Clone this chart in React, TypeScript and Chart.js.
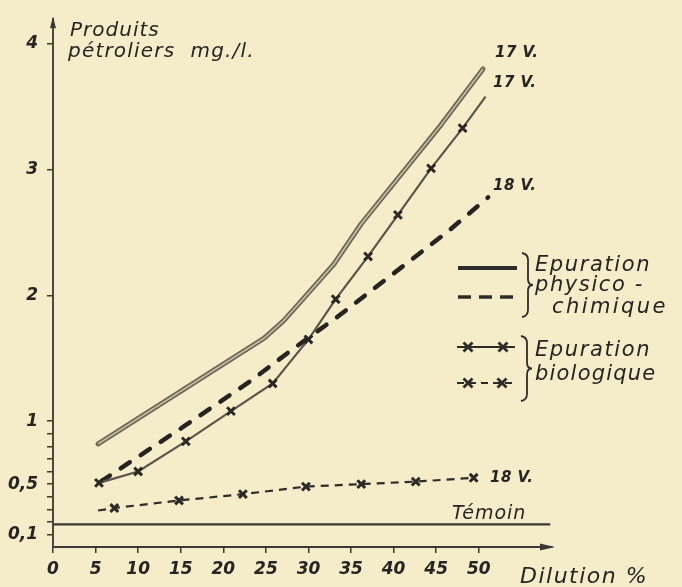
import React, { useEffect, useRef } from 'react';
import { Chart, registerables } from 'chart.js';

Chart.register(...registerables);

// ---------- data ----------
const X_TICKS = [0, 5, 10, 15, 20, 25, 30, 35, 40, 45, 50];
const Y_TICKS = [0.1, 0.2, 0.3, 0.4, 0.5, 0.6, 0.7, 0.8, 0.9, 1, 2, 3, 4];
const Y_LABELLED = [0.1, 0.5, 1, 2, 3, 4];

// Epuration physico-chimique, 17 V (solid)
const physico17X = [5.3, 24.8, 27.1, 30, 33, 36.2, 45.5, 50.5];
const physico17Y = [0.82, 1.66, 1.8, 2.02, 2.25, 2.57, 3.35, 3.8];

// Epuration physico-chimique, 18 V (dashed)
const physico18X = [5.6, 15.4, 23.2, 27.9, 33.6, 46.4, 51.1];
const physico18Y = [0.52, 0.96, 1.32, 1.56, 1.84, 2.51, 2.78];

// Epuration biologique, 17 V (solid with crosses)
const bio17X = [5.4, 10, 15.6, 20.9, 25.8, 30, 33.2, 37, 40.5, 44.4, 48.1, 50.8];
const bio17Y = [0.51, 0.6, 0.84, 1.08, 1.3, 1.65, 1.97, 2.31, 2.64, 3.01, 3.33, 3.58];

// Epuration biologique, 18 V (dashed with crosses)
const bio18X = [5.3, 7.2, 14.8, 22.3, 29.7, 36.2, 42.6, 49.4];
const bio18Y = [0.29, 0.31, 0.37, 0.42, 0.48, 0.5, 0.52, 0.55];

// Témoin
const temoinX = [0, 58.4];
const temoinY = [0.18, 0.18];

const toPts = (xs: number[], ys: number[]) => xs.map((x, i) => ({ x, y: ys[i] }));

const BG = '#f5ecca';
const INK = '#262522';
const FONT = "'DejaVu Sans', sans-serif";

export default function App() {
  const ref = useRef<HTMLCanvasElement>(null);

  useEffect(() => {
    const canvas = ref.current!;

    const drawCross = (ctx: CanvasRenderingContext2D, x: number, y: number, r: number) => {
      ctx.beginPath();
      ctx.moveTo(x - r, y - r);
      ctx.lineTo(x + r, y + r);
      ctx.moveTo(x - r, y + r);
      ctx.lineTo(x + r, y - r);
      ctx.stroke();
    };

    const brace = (ctx: CanvasRenderingContext2D, x: number, top: number, bottom: number) => {
      const mid = (top + bottom) / 2;
      ctx.beginPath();
      ctx.moveTo(x, top);
      ctx.quadraticCurveTo(x + 6, top + 1, x + 6, top + 7);
      ctx.lineTo(x + 6, mid - 6);
      ctx.quadraticCurveTo(x + 6, mid, x + 11, mid);
      ctx.quadraticCurveTo(x + 6, mid, x + 6, mid + 6);
      ctx.lineTo(x + 6, bottom - 7);
      ctx.quadraticCurveTo(x + 6, bottom - 1, x, bottom);
      ctx.stroke();
    };

    const annot = {
      id: 'annot',
      beforeDraw(chart: any) {
        const { ctx, width, height } = chart;
        ctx.save();
        ctx.fillStyle = BG;
        ctx.fillRect(0, 0, width, height);
        ctx.restore();
      },
      afterDraw(chart: any) {
        const { ctx } = chart;
        const xs = chart.scales.x;
        const ys = chart.scales.y;
        ctx.save();
        ctx.fillStyle = INK;
        ctx.strokeStyle = INK;
        ctx.textAlign = 'left';
        ctx.textBaseline = 'alphabetic';

        // axis arrows
        const ax = xs.left;
        const ay = ys.bottom;
        ctx.fillStyle = '#3b3934';
        ctx.beginPath();
        ctx.moveTo(ax, ys.top - 3);
        ctx.lineTo(ax - 3, ys.top + 9);
        ctx.lineTo(ax + 3, ys.top + 9);
        ctx.closePath();
        ctx.fill();
        ctx.beginPath();
        ctx.moveTo(xs.right + 3, ay);
        ctx.lineTo(xs.right - 12, ay - 3.5);
        ctx.lineTo(xs.right - 12, ay + 3.5);
        ctx.closePath();
        ctx.fill();
        ctx.fillStyle = INK;

        const text = (s: string, x: number, y: number, font: string, ls = '0px') => {
          ctx.font = font;
          (ctx as any).letterSpacing = ls;
          ctx.fillText(s, x, y);
        };

        // axis titles
        text('Produits', 70, 36, `italic 20px ${FONT}`, '1px');
        text('pétroliers  mg./l.', 68, 57, `italic 20px ${FONT}`, '1.2px');
        text('Dilution %', 520, 583, `italic 22px ${FONT}`, '1.5px');

        // series labels
        const lbl = `italic bold 15px ${FONT}`;
        text('17 V.', 495, 57, lbl, '0.5px');
        text('17 V.', 493, 87, lbl, '0.5px');
        text('18 V.', 493, 190, lbl, '0.5px');
        text('18 V.', 490, 482, lbl, '0.5px');
        text('Témoin', 452, 519, `italic 19px ${FONT}`, '1px');

        // legend samples
        ctx.lineCap = 'butt';
        ctx.strokeStyle = '#2e2c28';
        ctx.lineWidth = 4;
        ctx.beginPath();
        ctx.moveTo(458, 268);
        ctx.lineTo(517, 268);
        ctx.stroke();

        ctx.setLineDash([13, 8]);
        ctx.lineWidth = 3.5;
        ctx.beginPath();
        ctx.moveTo(458, 297);
        ctx.lineTo(517, 297);
        ctx.stroke();
        ctx.setLineDash([]);

        ctx.lineWidth = 1.8;
        ctx.beginPath();
        ctx.moveTo(457, 347);
        ctx.lineTo(515, 347);
        ctx.stroke();
        ctx.lineWidth = 2.8;
        drawCross(ctx, 468, 347, 4.5);
        drawCross(ctx, 503, 347, 4.5);

        ctx.lineWidth = 2;
        ctx.setLineDash([7, 5]);
        ctx.beginPath();
        ctx.moveTo(457, 383);
        ctx.lineTo(515, 383);
        ctx.stroke();
        ctx.setLineDash([]);
        ctx.lineWidth = 2.8;
        drawCross(ctx, 468, 383, 4.5);
        drawCross(ctx, 502, 383, 4.5);

        // braces
        ctx.lineWidth = 1.8;
        brace(ctx, 522, 253, 317);
        brace(ctx, 521, 336, 401);

        // legend text
        const lf = `italic 21px ${FONT}`;
        text('Epuration', 535, 271, lf, '1.6px');
        text('physico -', 535, 291, lf, '1.6px');
        text('chimique', 552, 313, lf, '2.4px');
        text('Epuration', 535, 356, lf, '1.6px');
        text('biologique', 535, 380, lf, '1.2px');

        ctx.restore();
      },
    };

    const tickFont = { family: FONT, size: 17, style: 'italic' as const, weight: 'bold' as const };

    const chart = new Chart(canvas, {
      type: 'line',
      data: {
        datasets: [
          {
            label: 'Témoin',
            data: toPts(temoinX, temoinY),
            borderColor: '#3a3833',
            borderWidth: 2.2,
            pointRadius: 0,
            order: 5,
          },
          {
            label: 'physico 17 V',
            data: toPts(physico17X, physico17Y),
            borderColor: '#6e685a',
            borderWidth: 5,
            pointRadius: 0,
            borderCapStyle: 'round',
            borderJoinStyle: 'round',
            order: 4,
          },
          {
            label: 'physico 17 V (inner)',
            data: toPts(physico17X, physico17Y),
            borderColor: '#cbc3a5',
            borderWidth: 1.5,
            pointRadius: 0,
            order: 3,
          },
          {
            label: 'physico 18 V',
            data: toPts(physico18X, physico18Y),
            borderColor: '#252420',
            borderWidth: 4.5,
            borderDash: [11, 13],
            borderCapStyle: 'round',
            pointRadius: 0,
            order: 2,
          },
          {
            label: 'bio 17 V',
            data: toPts(bio17X, bio17Y),
            borderColor: '#5b564b',
            borderWidth: 2.2,
            pointStyle: 'crossRot',
            pointRadius: bio17X.map((_, i) => (i === bio17X.length - 1 ? 0 : 5.5)),
            pointBorderColor: '#2a2925',
            pointBorderWidth: 3,
            order: 1,
          },
          {
            label: 'bio 18 V',
            data: toPts(bio18X, bio18Y),
            borderColor: '#2e2d29',
            borderWidth: 2.2,
            borderDash: [8, 6],
            pointStyle: 'crossRot',
            pointRadius: bio18X.map((_, i) => (i === 0 ? 0 : 5.5)),
            pointBorderColor: '#2a2925',
            pointBorderWidth: 3,
            order: 0,
          },
        ],
      },
      options: {
        responsive: false,
        animation: false,
        devicePixelRatio: 1,
        layout: { padding: { left: 8, right: 130, top: 12, bottom: 5 } },
        plugins: {
          legend: { display: false },
          tooltip: { enabled: false },
          title: { display: false },
        },
        elements: { line: { tension: 0 } },
        scales: {
          x: {
            type: 'linear',
            min: 0,
            max: 58.6,
            afterBuildTicks: (s: any) => {
              s.ticks = X_TICKS.map((v) => ({ value: v }));
            },
            afterFit: (s: any) => {
              s.height = 35;
            },
            ticks: {
              autoSkip: false,
              maxRotation: 0,
              padding: 6,
              color: INK,
              font: tickFont,
              callback: (v: any) => String(v),
            },
            grid: { display: true, drawOnChartArea: false, drawTicks: true, tickLength: 6, color: '#3b3934', lineWidth: 1.5 },
            border: { display: true, color: '#3b3934', width: 2 },
          },
          y: {
            type: 'linear',
            min: 0,
            max: 4.196,
            afterBuildTicks: (s: any) => {
              s.ticks = Y_TICKS.map((v) => ({ value: v }));
            },
            afterFit: (s: any) => {
              s.width = 45;
            },
            ticks: {
              autoSkip: false,
              padding: 9,
              color: INK,
              font: tickFont,
              callback: (v: any) => (Y_LABELLED.includes(v) ? String(v).replace('.', ',') : ''),
            },
            grid: { display: true, drawOnChartArea: false, drawTicks: true, tickLength: 6, color: '#3b3934', lineWidth: 1.5 },
            border: { display: true, color: '#4a4740', width: 2 },
          },
        },
      },
      plugins: [annot],
    } as any);

    return () => chart.destroy();
  }, []);

  return (
    <div style={{ position: 'fixed', left: 0, top: 0, width: 682, height: 587, background: BG }}>
      <canvas ref={ref} width={682} height={587} style={{ display: 'block', width: 682, height: 587 }} />
    </div>
  );
}
